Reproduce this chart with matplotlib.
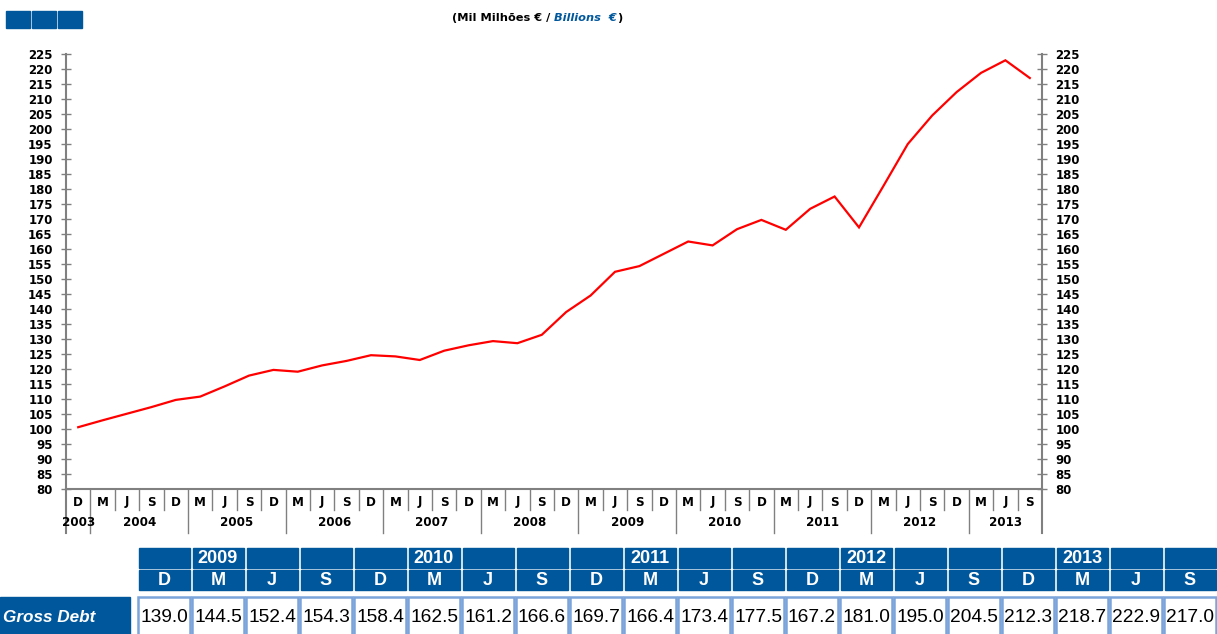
import matplotlib.pyplot as plt
from matplotlib.patches import Rectangle

plt.rcParams['font.family'] = ['DejaVu Sans']

BLUE = '#00579c'
GREY = '#808080'

# quarterly series, Dec 2003 .. Sep 2013
quarters = ['D'] + ['M', 'J', 'S', 'D'] * 9 + ['M', 'J', 'S']
years = [2003] + [y for y in range(2004, 2013) for _ in range(4)] + [2013] * 3
gross_debt = [100.6, 102.9, 105.1, 107.3, 109.7,
              110.8, 114.2, 117.8, 119.7,
              119.1, 121.2, 122.7, 124.6,
              124.2, 123.0, 126.1, 127.9,
              129.3, 128.6, 131.4, 139.0,
              144.5, 152.4, 154.3, 158.4,
              162.5, 161.2, 166.6, 169.7,
              166.4, 173.4, 177.5, 167.2,
              181.0, 195.0, 204.5, 212.3,
              218.7, 222.9, 217.0]
row_label = 'Gross Debt'
n_table = 20

W, H = 1217, 634
fig = plt.figure(figsize=(W / 100, H / 100), dpi=100)

# ---- line chart ----
ax = fig.add_axes([66 / W, 1 - 489 / H, 976 / W, 435 / H])
n = len(gross_debt)
ax.plot(range(n), gross_debt, color='#ff0000', lw=1.6, solid_joinstyle='miter')
ax.set_xlim(-0.5, n - 0.5)
ax.set_ylim(80, 225)
ax.set_yticks(range(80, 226, 5))
ax.set_xticks([])
ax.tick_params(axis='y', direction='inout', length=7, width=1, color=GREY,
               left=True, right=True, labelleft=True, labelright=True,
               labelsize=8.5, pad=6)
for t in ax.yaxis.get_major_ticks():
    t.label1.set_fontweight('bold')
    t.label2.set_fontweight('bold')
ax.spines['top'].set_visible(False)
for s in ['left', 'right', 'bottom']:
    ax.spines[s].set_color(GREY)
    ax.spines[s].set_linewidth(1.5)

# category axis drawn below the plot: quarter cells and year groups
tr = ax.get_xaxis_transform()
short_y = -21 / 435
long_y = -44 / 435
for xb in (-0.5, n - 0.5):
    ax.plot([xb, xb], [0, long_y], color=GREY, lw=1.5, transform=tr, clip_on=False)
for i in range(n - 1):
    bottom = long_y if years[i + 1] != years[i] else short_y
    ax.plot([i + 0.5, i + 0.5], [0, bottom], color=GREY, lw=1,
            transform=tr, clip_on=False)
for i, q in enumerate(quarters):
    ax.text(i, -13 / 435, q, transform=tr, ha='center', va='center',
            fontsize=8.6, fontweight='bold')
for y in sorted(set(years)):
    idx = [i for i, yy in enumerate(years) if yy == y]
    ax.text(sum(idx) / len(idx), -33 / 435, str(y), transform=tr,
            ha='center', va='center', fontsize=8.6, fontweight='bold')

# ---- header: blue squares and units ----
for k in range(3):
    fig.patches.append(Rectangle(((6 + 26 * k) / W, 1 - 28 / H), 24 / W, 17 / H,
                                 transform=fig.transFigure, color=BLUE))
t1 = fig.text(452 / W, 1 - 18 / H, '(Mil Milhões € / ', fontsize=8.2,
              fontweight='bold', va='center', ha='left')
t2 = fig.text(0, 0, 'Billions  €', fontsize=8.2, fontweight='bold', style='italic',
              color=BLUE, va='center', ha='left')
t3 = fig.text(0, 0, ')', fontsize=8.2, fontweight='bold', va='center', ha='left')
fig.canvas.draw()
r = fig.canvas.get_renderer()
bb1 = t1.get_window_extent(r)
t2.set_position((bb1.x1 / W, 1 - 18 / H))
bb2 = t2.get_window_extent(r)
t3.set_position((bb2.x1 / W, 1 - 18 / H))

# ---- data table for the last 20 quarters ----
tab = fig.add_axes([0, 0, 1, 1])
tab.set_xlim(0, W)
tab.set_ylim(H, 0)
tab.axis('off')

x0, cw = 137, 54
first = n - n_table
for c in range(n_table):
    i = first + c
    left = x0 + cw * c
    tab.add_patch(Rectangle((left + 1.5, 548), cw - 3, 20, color=BLUE))
    tab.add_patch(Rectangle((left + 1.5, 570), cw - 3, 20, color=BLUE))
    tab.add_patch(Rectangle((left + 1, 597), cw - 2, 45, facecolor='white',
                            edgecolor='#7aa4da', lw=1.8))
    if quarters[i] == 'M':
        tab.text(left + cw / 2, 558.5, str(years[i]), ha='center', va='center',
                 color='white', fontsize=13, fontweight='bold',
                 family='Liberation Sans')
    tab.text(left + cw / 2, 580.5, quarters[i], ha='center', va='center',
             color='white', fontsize=13, fontweight='bold',
             family='Liberation Sans')
    tab.text(left + cw / 2, 618, f'{gross_debt[i]:.1f}', ha='center', va='center',
             color='black', fontsize=13.8, family='Liberation Sans')

tab.add_patch(Rectangle((0, 597), 130, 45, color=BLUE))
tab.text(3, 618, row_label, ha='left', va='center', color='white', fontsize=12.3,
         fontweight='bold', style='italic', family='Liberation Sans')

fig.savefig('out.png', dpi=100)
